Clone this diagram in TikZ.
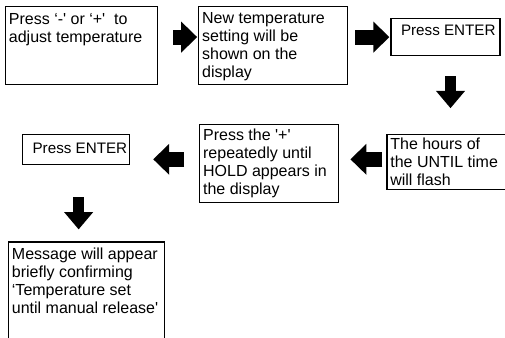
\documentclass[tikz,border=0pt]{standalone}
\usepackage{fontspec}
\setmainfont{Liberation Sans}
\usetikzlibrary{positioning,arrows.meta}
\newcommand{\boxtext}[3]{\parbox[t][#2][t]{#1}{\raggedright #3}}
\newcommand{\entertext}[2]{\parbox[t][#2][t]{#1}{\fontsize{11.4}{13.4}\selectfont\hspace*{5pt}\mbox{Press ENTER}}}

\begin{document}
\begin{tikzpicture}[x=0.75pt,y=-0.75pt,
  every node/.style={font=\fontsize{12}{13.4}\selectfont},
  stepnote/.style={draw,line width=0.9pt,inner xsep=2.5pt,inner ysep=#1},
  stepnote/.default=4pt,
  fatarrow/.style={line width=11.25pt,-{Triangle[width=22.5pt,length=12pt]}},
  downarrow/.style={line width=8.25pt,-{Triangle[width=21pt,length=13pt]}}]
\useasboundingbox (0,0) rectangle (505,337);
\node[stepnote=5pt,anchor=north west] (b1) at (5,6) {\boxtext{109pt}{48.5pt}{Press ‘-\textquotesingle{} or ‘+\textquotesingle\ \ to\\adjust temperature}};
\node[stepnote=4.5pt] (b2) [right=30pt of b1.north east,anchor=north west] {\boxtext{106.75pt}{49.5pt}{New temperature\\setting will be\\shown on the\\display}};
\node[stepnote=5pt] (b3) [below right=9pt and 31.5pt of b2.north east] {\entertext{76.75pt}{17.75pt}};
\node[stepnote=2.5pt] (b4) [below right=58.5pt and -3pt of b3.south west] {\boxtext{85pt}{36.25pt}{The hours of\\the UNTIL time\\will flash}};
\node[stepnote=3pt] (b5) [above left=7.5pt and 35.25pt of b4.north west,anchor=north east] {\boxtext{99.25pt}{52.5pt}{Press the \textquotesingle+\textquotesingle\\repeatedly until\\HOLD appears in\\the display}};
\node[stepnote=6pt] (b6) [below left=7.5pt and 51.75pt of b5.north west] {\entertext{75.25pt}{10.5pt}};
\node[stepnote=4.5pt] (b7) [below right=57pt and -10.5pt of b6.south west] {\boxtext{112pt}{73.5pt}{Message will appear\\briefly confirming\\‘Temperature set\\until manual release\textquotesingle}};
% arrows between the steps
\draw[fatarrow,shorten <=11.25pt,shorten >=0.75pt] (b1.east |- b3) -- (b2.west |- b3);
\draw[fatarrow,shorten <=5.25pt,shorten >=0.75pt] (b2.east |- b3) -- (b3.west);
\draw[downarrow,shorten <=15pt,shorten >=19.5pt] ([xshift=3.75pt]b3.south) -- ([xshift=3.75pt]b3.south |- b4.north);
\draw[fatarrow,shorten <=3pt,shorten >=8.25pt] ([yshift=2.25pt]b4.west) -- ([yshift=2.25pt]b4.west -| b5.east);
\draw[fatarrow,shorten <=11.25pt,shorten >=17.25pt] ([yshift=2.25pt]b4.west -| b5.west) -- ([yshift=2.25pt]b4.west -| b6.east);
\draw[downarrow,shorten <=24pt,shorten >=9pt] ([xshift=1.9pt]b6.south) -- ([xshift=1.9pt]b6.south |- b7.north);
\end{tikzpicture}
\end{document}
